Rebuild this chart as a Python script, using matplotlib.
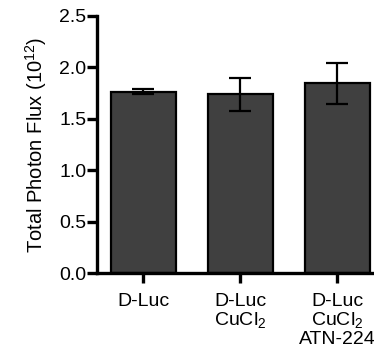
import matplotlib
matplotlib.use("Agg")
import matplotlib.pyplot as plt

plt.rcParams['font.family'] = ['Liberation Sans', 'DejaVu Sans']
plt.rcParams['mathtext.fontset'] = 'custom'
plt.rcParams['mathtext.rm'] = 'Liberation Sans'
plt.rcParams['mathtext.it'] = 'Liberation Sans'

labels = ['D-Luc', 'D-Luc\nCuCl$_2$', 'D-Luc\nCuCl$_2$\nATN-224']
values = [1.765, 1.74, 1.845]
errors = [0.02, 0.16, 0.20]
yticks = [0.0, 0.5, 1.0, 1.5, 2.0, 2.5]

fig = plt.figure(figsize=(3.74, 3.6), dpi=100)
ax = fig.add_axes([0.2586, 0.241, 0.736, 0.715])

x = range(len(values))
ax.bar(x, values, width=0.67, color='#404040', edgecolor='black', linewidth=1.6, zorder=2)
ax.errorbar(x, values, yerr=errors, fmt='none', ecolor='black', elinewidth=1.6,
            capsize=8, capthick=1.6, zorder=3)

ax.set_xlim(-0.48, 2.36)
ax.set_ylim(0, 2.5)
ax.set_yticks(yticks)
ax.set_yticklabels(['%.1f' % v for v in yticks])
ax.set_xticks(list(x))
ax.set_xticklabels(labels, linespacing=1.05)
ax.set_ylabel('Total Photon Flux (10$^{12}$)', fontsize=14.5, labelpad=7)

for s in ['top', 'right']:
    ax.spines[s].set_visible(False)
for s in ['left', 'bottom']:
    ax.spines[s].set_linewidth(2.4)
ax.tick_params(axis='both', width=2.4, length=7, labelsize=14, direction='out')
ax.tick_params(axis='y', pad=0.5)
ax.tick_params(axis='x', pad=7)

fig.savefig('out.png', dpi=100)
